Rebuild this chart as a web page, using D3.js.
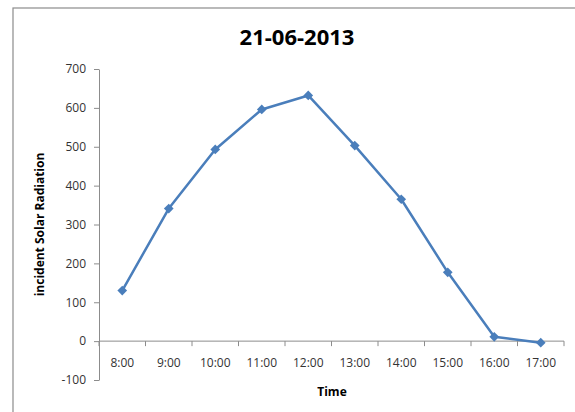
<!DOCTYPE html>
<html lang="en">
    <head>
        <meta charset="utf-8">
        <title>21-06-2013</title>
        <script src="https://d3js.org/d3.v7.min.js"></script>
        <style type="text/css">
          body{ margin:0; background:#fff; }
          svg{ width:575px; height:412px; display:block; }
          text{ font-family:"Open Sans", "Noto Sans", sans-serif; }
        </style>
    </head>
    <body>
        <svg></svg>

        <script type="text/javascript">

        const times = ["8:00","9:00","10:00","11:00","12:00","13:00","14:00","15:00","16:00","17:00"];
        const radiation = [130, 341, 493, 596, 632, 503, 365, 177, 11, -4];
        const yTicks = [-100, 0, 100, 200, 300, 400, 500, 600, 700];

        const svg = d3.select("svg");
        const plotLeft = 99, plotRight = 564, plotTop = 69, plotBottom = 380;

        // chart frame
        svg.append("rect")
           .attr("x", 13).attr("y", 8)
           .attr("width", 600).attr("height", 450)
           .attr("fill", "none")
           .attr("stroke", "#8c8c8c")
           .attr("stroke-width", 1.2);

        const x = d3.scaleBand().domain(times).range([plotLeft, plotRight]);
        const y = d3.scaleLinear().domain([-100, 700]).range([plotBottom, plotTop]);

        // y axis (plain hyphen for negatives, like the original)
        const yAxis = svg.append("g")
           .attr("transform", `translate(${plotLeft},0)`)
           .call(d3.axisLeft(y).tickValues(yTicks).tickFormat(d => String(d))
                   .tickSize(5).tickSizeOuter(0).tickPadding(8));
        yAxis.selectAll("path, line").attr("stroke", "#8c8c8c");
        yAxis.selectAll("text").attr("font-size", 12).attr("fill", "#333");

        // x axis at zero, ticks between categories
        const xg = svg.append("g").attr("transform", `translate(0,${y(0)})`);
        xg.append("line").attr("x1", plotLeft).attr("x2", plotRight).attr("stroke", "#8c8c8c");
        const bounds = times.map(t => x(t)).concat([plotRight]);
        xg.selectAll(".tk").data(bounds).enter().append("line")
          .attr("x1", d => d).attr("x2", d => d)
          .attr("y1", 0).attr("y2", 5)
          .attr("stroke", "#8c8c8c");
        xg.selectAll(".lb").data(times).enter().append("text")
          .attr("x", d => x(d) + x.bandwidth() / 2)
          .attr("y", 26)
          .attr("text-anchor", "middle")
          .attr("font-size", 12)
          .attr("fill", "#333")
          .text(d => d);

        // line
        const line = d3.line()
          .x((d, i) => x(times[i]) + x.bandwidth() / 2)
          .y(d => y(d));
        svg.append("path")
           .datum(radiation)
           .attr("d", line)
           .attr("fill", "none")
           .attr("stroke", "#4a7ebb")
           .attr("stroke-width", 2.5)
           .attr("stroke-linejoin", "round");

        svg.selectAll(".pt").data(radiation).enter().append("path")
           .attr("d", d3.symbol().type(d3.symbolDiamond2).size(60))
           .attr("transform", (d, i) => `translate(${x(times[i]) + x.bandwidth() / 2},${y(d)})`)
           .attr("fill", "#4a7ebb");

        // titles
        svg.append("text")
           .attr("x", 297).attr("y", 45)
           .attr("text-anchor", "middle")
           .attr("font-size", 22).attr("font-weight", "bold")
           .text("21-06-2013");

        svg.append("text")
           .attr("x", 332).attr("y", 396)
           .attr("text-anchor", "middle")
           .attr("font-size", 12).attr("font-weight", "bold")
           .text("Time");

        svg.append("text")
           .attr("transform", `translate(44,${(plotTop + plotBottom) / 2}) rotate(-90)`)
           .attr("text-anchor", "middle")
           .attr("font-size", 12).attr("font-weight", "bold")
           .text("incident Solar Radiation");

        </script>
    </body>
</html>
